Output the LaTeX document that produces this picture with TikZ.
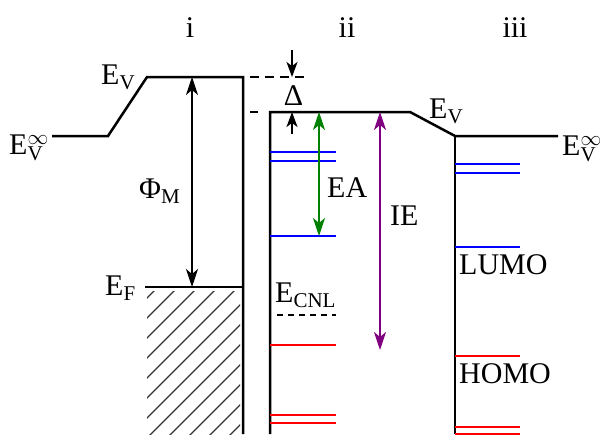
\documentclass[tikz,border=0pt]{standalone}
\usepackage{fontspec}
\setmainfont{Liberation Serif}
\usetikzlibrary{arrows.meta}
\definecolor{egreen}{RGB}{0,128,0}
\definecolor{epurple}{RGB}{128,0,128}
\begin{document}
\begin{tikzpicture}[x=1pt,y=-1pt,
  band/.style={line width=2.5pt,black},
  lvl/.style={line width=2.2pt},
  dimarrow/.style={line width=1.7pt,{Stealth[length=18pt,width=12pt,inset=5pt]}-{Stealth[length=18pt,width=12pt,inset=5pt]}},
  onearrow/.style={line width=1.7pt,-{Stealth[length=15pt,width=11pt,inset=4pt]}},
  lbl/.style={inner sep=0pt,font=\fontsize{30}{32}\selectfont},
  hatch/.style={line width=1.4pt,black!80}]
\useasboundingbox (0,0) rectangle (608,434);
% key points
\coordinate (Lvac) at (52,136);
\coordinate (Lk) at (108,136);
\coordinate (Ltop) at (147,77);
\coordinate (Mtr) at (243,77);
\coordinate (Mbot) at (243,434);
\coordinate (EFl) at (145,287);
\coordinate (EFr) at (243,287);
\coordinate (Itl) at (270,112);
\coordinate (Ibot) at (270,434);
\coordinate (Ik) at (410,112);
\coordinate (Otl) at (455,136);
\coordinate (Obot) at (455,434);
\coordinate (Rvac) at (558,136);
% metal
\draw[band,line join=miter] (Lvac) -- (Lk) -- (Ltop) -- (Mtr) -- (Mbot);
\draw[band] (EFl) -- (EFr);
\begin{scope}
\clip (147,291) rectangle (240,434);
\foreach \k in {-8,...,6} {
  \draw[hatch] (145+20*\k,440) -- (145+20*\k+160,280);
}
\end{scope}
% interface layer
\draw[band,line join=miter] (Ibot) -- (Itl) -- (Ik) -- (Otl) -- (Rvac);
\draw[band] (Otl) -- (Obot);
% dashed offsets
\draw[line width=2.5pt,dash pattern=on 9pt off 6pt] (250,77) -- (307,77);
\draw[line width=2.5pt] (250,112) -- (258,112);
\coordinate (d1) at (292,50);
\coordinate (d2) at (292,77);
\coordinate (d3) at (292,134);
\coordinate (d4) at (292,112);
\draw[onearrow] (d1) -- (d2);
\draw[onearrow] (d3) -- (d4);
% blue levels ii
\draw[lvl,blue] (270,152) -- (336,152);
\draw[lvl,blue] (270,161) -- (336,161);
\draw[lvl,blue] (270,236) -- (336,236);
% red levels ii
\draw[lvl,red] (270,345) -- (336,345);
\draw[lvl,red] (270,415) -- (336,415);
\draw[lvl,red] (270,423) -- (336,423);
\draw[lvl,dash pattern=on 6pt off 5pt] (277,315) -- (336,315);
% levels iii
\draw[lvl,blue] (455,164) -- (520,164);
\draw[lvl,blue] (455,173) -- (520,173);
\draw[lvl,blue] (455,247) -- (520,247);
\draw[lvl,red] (455,356) -- (520,356);
\draw[lvl,red] (455,427) -- (520,427);
\draw[lvl,red] (455,434) -- (520,434);
% arrows
\coordinate (phiT) at (192,77);
\coordinate (phiB) at (192,287);
\draw[dimarrow] (phiT) -- (phiB);
\coordinate (eaT) at (319,112);
\coordinate (eaB) at (319,236);
\draw[dimarrow,egreen] (eaT) -- (eaB);
\coordinate (ieT) at (380,112);
\coordinate (ieB) at (380,350);
\draw[dimarrow,epurple] (ieT) -- (ieB);
% labels
\node[lbl,anchor=base] (ti) at (190,37) {i};
\node[lbl,anchor=base] (tii) at (347,37) {ii};
\node[lbl,anchor=base] (tiii) at (515,37) {iii};
\node[lbl,anchor=base west] (evl) at (101,84) {$\mathrm{E}_\mathrm{V}$};
\node[lbl,anchor=base west] (evinfl) at (9,154) {$\mathrm{E}_\mathrm{V}^{\infty}$};
\node[lbl,anchor=base west] (evr) at (429,118) {$\mathrm{E}_\mathrm{V}$};
\node[lbl,anchor=base west] (evinfr) at (562,155) {$\mathrm{E}_\mathrm{V}^{\infty}$};
\node[lbl,anchor=base west] (phim) at (139,198) {\mbox{Φ}$_\mathrm{M}$};
\node[lbl,anchor=base west] (ef) at (105,295) {$\mathrm{E}_\mathrm{F}$};
\node[lbl,anchor=base west] (ecnl) at (275,302) {$\mathrm{E}_\mathrm{CNL}$};
\node[lbl,anchor=base west] (ea) at (327,197) {EA};
\node[lbl,anchor=base west] (ie) at (390,225) {IE};
\node[lbl,anchor=base west] (lumo) at (459,274) {LUMO};
\node[lbl,anchor=base west] (homo) at (459,383) {HOMO};
\node[lbl,anchor=base] (delta) at (293.5,105) {Δ};
\end{tikzpicture}
\end{document}
